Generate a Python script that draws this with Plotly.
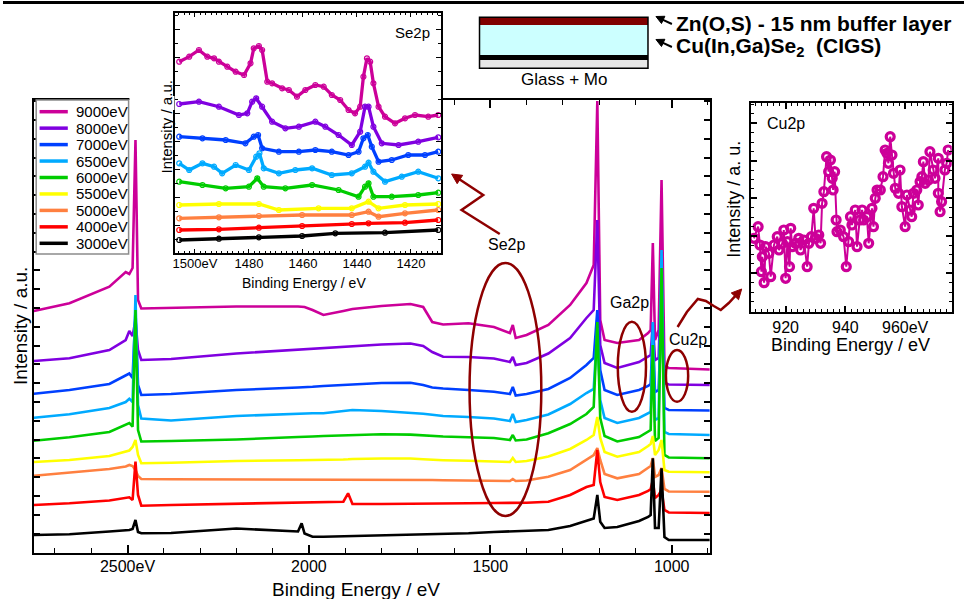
import math
import plotly.graph_objects as go

W, H = 964, 599
FONT = "Liberation Sans, Arial, sans-serif"
DARKRED = "#8E0000"

# ---------------- main survey spectra (Binding energy in eV, intensity a.u.) ----------------
energy = [2758, 2660, 2550, 2505, 2495, 2486, 2478, 2471, 2462, 2380,
          2200, 2030, 2020, 2012, 1990, 1960, 1905, 1892, 1880, 1800,
          1720, 1685, 1660, 1630, 1560, 1490, 1446, 1438, 1430, 1400,
          1340, 1280, 1235, 1215, 1205, 1197, 1185, 1150, 1090, 1065,
          1058, 1052, 1046, 1036, 1028, 1020, 1008, 895]

i9000 = [242, 249.7, 266.3, 281, 279, 285, 413, 253, 244.5, 245,
         246.5, 246.5, 246.5, 246, 243, 238, 242, 243, 244, 247,
         249, 246, 231, 228.5, 229.7, 226, 220, 228, 215, 218,
         228, 248, 270, 288, 452, 233, 213, 210, 213, 220,
         223, 310, 213, 223, 373, 187, 185, 183.5]
i8000 = [192, 194.7, 203, 213, 222, 217, 233, 203, 193, 194,
         199.5, 203.5, 203.5, 203.7, 204.3, 205, 206, 206.3, 206.7, 208.5,
         209.5, 207, 201, 196.3, 196, 194.5, 191, 196, 188, 190,
         199.5, 215, 235, 243, 333, 208, 190, 185, 191, 196,
         198, 231, 193, 195, 291, 170, 168.5, 168]
i7000 = [159.3, 163, 169, 177, 179.5, 175, 243, 168, 158, 159,
         163, 165.5, 165.6, 165.7, 166.2, 167, 168, 168.3, 168.7, 170,
         170.3, 168, 165.5, 164.5, 163, 161.3, 159, 166, 157.5, 159,
         164, 175, 188, 195, 243, 183, 163, 158, 163, 167,
         169, 223, 161, 163, 253, 145, 143, 142.5]
i6500 = [135.3, 138.7, 145, 151, 154.3, 151, 258, 148, 134.5, 132.5,
         137, 139.5, 139.5, 139.6, 139.7, 139.7, 141.5, 142.5, 143, 142,
         140.5, 139.2, 138.2, 137, 136, 134.5, 132, 139, 131, 133,
         138.5, 149, 160, 164, 225, 153, 135, 130, 135, 139.5,
         141, 231, 133, 135, 303, 121, 119, 118]
i6000 = [112.3, 115.7, 121, 129, 130, 126.3, 243, 123, 111.5, 112,
         113.5, 116, 116, 116.1, 116.5, 117, 117.5, 117.8, 118, 118.8,
         118.4, 117.5, 117, 116.5, 115.7, 115, 113, 118, 112.5, 113.5,
         119.7, 129, 139, 146, 231, 135, 117, 111.5, 116, 121,
         123, 208, 112, 115, 285, 98, 95.5, 94.7]
i5500 = [91, 93, 97, 101, 102.5, 106, 113, 98, 89.7, 90.2,
         92, 92.8, 92.8, 92.9, 93, 93, 93.5, 93.7, 94, 94.5,
         94.5, 93.7, 93, 92.8, 92.2, 91.5, 91, 95, 91, 92,
         96.5, 104, 113, 118, 136, 115, 101, 96.3, 101, 107,
         109, 117, 98, 103, 113, 83, 81.3, 80.7]
i5000 = [77.3, 80.3, 84, 86.5, 88, 87, 83, 77, 74, 73.8,
         73.7, 73.7, 73.7, 73.7, 73.7, 73.8, 73.8, 73.8, 73.8, 73.7,
         73.5, 73.2, 73, 72.7, 72.5, 72.2, 72, 74, 72, 72.5,
         76.3, 83, 93, 98, 105, 93, 79, 74.7, 79, 85,
         87, 95, 76, 78, 85, 64, 61.5, 61.3]
i4000 = [48, 49.7, 52.5, 54.7, 55.7, 53, 91.3, 58, 47.3, 48,
         49, 50.5, 50.6, 50.7, 50.9, 51, 51.3, 59.7, 49, 49,
         49, 49.2, 49.4, 49.5, 49.7, 50, 50, 50.5, 50, 50.2,
         51.3, 58, 66, 68, 103, 71, 56, 53, 58, 62,
         64, 73, 55, 58, 63, 43, 40.5, 40]
i3000 = [18, 18.7, 21.5, 22.7, 23, 24, 33, 21, 19.7, 20,
         24.5, 21.5, 29.7, 19.5, 16.3, 16.3, 16.7, 16.8, 17, 17.5,
         18, 18.5, 18.8, 19.2, 19.7, 21, 21.5, 22, 21.5, 22,
         23, 27, 32, 34.5, 58, 31.3, 25, 26, 32, 36,
         38, 94.7, 25, 25, 84.7, 16, 13, 13]

series_names = ["9000eV", "8000eV", "7000eV", "6500eV", "6000eV",
                "5500eV", "5000eV", "4000eV", "3000eV"]
series_colors = ["#CC0099", "#8000E0", "#0040FF", "#00AAFF", "#00CC00",
                 "#FFFF00", "#FF8040", "#FF0000", "#000000"]
main_series = [i9000, i8000, i7000, i6500, i6000, i5500, i5000, i4000, i3000]

main_xticks = [2500, 2000, 1500, 1000]
main_xticktext = ["2500eV", "2000", "1500", "1000"]

# ---------------- Se2p inset ----------------
se_e_9000 = [1505.8, 1502.1, 1498.5, 1495.4, 1492.9, 1491.1, 1488.0, 1484.9, 1481.8, 1479.4,
             1478.2, 1476.3, 1475.1, 1473.2, 1471.4, 1467.7, 1465.2, 1462.2, 1459.1, 1455.4,
             1452.3, 1449.3, 1446.2, 1443.1, 1440.7, 1438.8, 1437.6, 1436.3, 1435.1, 1433.9,
             1432.0, 1429.6, 1425.9, 1422.2, 1418.5, 1413.6, 1409.9]
se_i_9000 = [191.6, 196.6, 203.3, 196.6, 195, 191.6, 186.6, 181.6, 178.3, 190,
             205, 207.3, 203.3, 171.6, 170, 165, 163.3, 156.6, 163.3, 168.3,
             166.6, 158.3, 153.3, 143.3, 140, 146.6, 176.6, 195, 191.6, 170,
             146.6, 136.6, 130, 135, 138.3, 136.6, 138.3]
se_e_8000 = [1505.8, 1498.5, 1491.1, 1483.7, 1480.6, 1478.8, 1477.3, 1475.1, 1471.4, 1466.5,
             1461.5, 1455.4, 1451.7, 1446.8, 1441.9, 1438.8, 1437.0, 1435.7, 1433.9, 1430.8,
             1424.6, 1417.3, 1409.9]
se_i_8000 = [149.3, 151.6, 146.6, 138.3, 140, 151.6, 155, 146.6, 131.6, 125,
             126.6, 131.6, 126.6, 118.3, 108.3, 121.6, 146.6, 146.6, 126.6, 110,
             108.3, 111.6, 116]
se_e_7000 = [1505.8, 1497.2, 1488.6, 1481.3, 1478.2, 1476.6, 1475.1, 1468.9, 1461.5, 1455.4,
             1449.3, 1443.1, 1439.4, 1437.6, 1436.0, 1434.5, 1432.0, 1427.1, 1421.0, 1414.8,
             1409.9]
se_i_7000 = [116.6, 115, 113.3, 110, 116.6, 118.3, 105, 101.6, 101.6, 103.3,
             101.6, 98.3, 101.6, 115, 118.3, 106.6, 91.6, 93.3, 98.3, 98.3,
             101.6]
se_e_6500 = [1505.8, 1502.1, 1497.2, 1492.9, 1489.9, 1484.9, 1480.0, 1477.3, 1476.1, 1474.5,
             1468.9, 1462.8, 1456.6, 1449.3, 1441.9, 1437.0, 1435.7, 1433.9, 1429.6, 1423.4,
             1417.3, 1409.9]
se_i_6500 = [90, 83.3, 90, 86.6, 80, 88.3, 83.3, 96.6, 100, 85,
             80, 83.3, 85, 78.3, 80, 86.6, 90.6, 81.6, 71.6, 76.6,
             81.6, 75]
se_e_6000 = [1505.8, 1497.2, 1488.6, 1480.0, 1476.9, 1474.5, 1466.5, 1456.6, 1446.8, 1439.4,
             1437.0, 1435.7, 1433.9, 1427.1, 1417.3, 1409.9]
se_i_6000 = [71.6, 68.3, 65, 66.6, 75, 66.6, 65, 68.3, 63.3, 56.6,
             66.6, 70, 56.6, 56.6, 58.3, 60.6]
se_e_5500 = [1505.8, 1491.1, 1476.3, 1468.9, 1454.2, 1441.9, 1435.7, 1432.0, 1422.2, 1409.9]
se_i_5500 = [48.3, 49.3, 49.3, 43.3, 45, 45, 51.6, 45, 48.3, 49.3]
se_e_5000 = [1505.8, 1491.1, 1476.3, 1460.3, 1441.9, 1435.7, 1432.0, 1422.2, 1409.9]
se_i_5000 = [35, 36, 37.3, 38.3, 38.3, 41.6, 36.6, 40, 43.3]
se_e_4000 = [1505.8, 1491.1, 1476.3, 1460.3, 1441.9, 1435.7, 1422.2, 1409.9]
se_i_4000 = [23.3, 24, 25.6, 27.3, 29.3, 30, 30.6, 33.3]
se_e_3000 = [1505.8, 1491.1, 1476.3, 1460.3, 1448.0, 1429.6, 1409.9]
se_i_3000 = [13.3, 14.6, 16, 17.3, 20, 20.6, 23.3]

se_series = [(se_e_9000, se_i_9000), (se_e_8000, se_i_8000), (se_e_7000, se_i_7000),
             (se_e_6500, se_i_6500), (se_e_6000, se_i_6000), (se_e_5500, se_i_5500),
             (se_e_5000, se_i_5000), (se_e_4000, se_i_4000), (se_e_3000, se_i_3000)]
se_xticks = [1500, 1480, 1460, 1440, 1420]
se_xticktext = ["1500eV", "1480", "1460", "1440", "1420"]

# ---------------- Cu2p inset (9000 eV) ----------------
cu_e = [909.4, 910.8, 911.4, 911.9, 912.2, 912.8, 913.3, 914.4, 915.0, 916.1,
        917.2, 917.8, 918.9, 919.4, 920.0, 920.6, 921.3, 921.7, 922.2, 923.3,
        924.4, 925.0, 926.1, 927.2, 927.8, 928.6, 929.4, 930.0, 931.1, 931.7,
        932.2, 932.8, 933.7, 934.4, 935.0, 935.6, 935.9, 936.4, 936.9, 937.2,
        938.3, 939.4, 940.3, 941.1, 941.7, 942.2, 943.3, 943.9, 944.8, 945.6,
        946.1, 947.2, 947.8, 948.9, 949.4, 950.0, 950.6, 951.7, 952.6, 953.3,
        953.9, 954.4, 955.0, 955.6, 956.1, 956.7, 957.8, 958.3, 958.9, 960.0,
        960.6, 961.7, 962.2, 962.8, 963.9, 964.4, 965.0, 965.6, 966.1, 966.7,
        967.8, 968.3, 969.4, 970.0, 971.1, 971.1, 971.7, 972.2, 973.3, 973.9,
        974.4]
cu_i = [73.4, 85.0, 66.7, 40.0, 55.0, 29.0, 65.0, 58.4, 35.0, 66.7,
        75.0, 61.7, 68.4, 81.7, 33.4, 70.0, 45.0, 83.4, 65.0, 68.4,
        73.4, 61.7, 71.7, 45.0, 68.4, 75.0, 103.4, 73.4, 76.7, 68.4,
        108.4, 120.0, 155.0, 140.0, 151.7, 133.4, 121.7, 140.0, 91.7, 80.0,
        81.7, 75.0, 45.0, 70.0, 95.0, 86.7, 101.7, 65.0, 91.7, 101.7,
        91.7, 95.0, 68.4, 103.4, 85.0, 113.4, 121.7, 121.7, 135.0, 161.7,
        158.4, 148.4, 175.0, 156.7, 138.4, 123.4, 118.4, 141.7, 105.0, 85.0,
        116.7, 101.7, 95.0, 118.4, 121.7, 106.7, 130.0, 135.0, 150.0, 128.4,
        131.7, 160.0, 141.7, 133.4, 153.4, 118.4, 100.0, 110.0, 141.7, 148.4,
        161.7]
cu_xticks = [920, 940, 960]
cu_xticktext = ["920", "940", "960eV"]

# axis ranges
main_xrange = [2758, 895]
main_yrange = [0, 453]
se_xrange = [1507.3, 1408.9]
se_yrange = [0, 240.6]
cu_xrange = [908.3, 975.6]
cu_yrange = [0, 209]


def fx(px):
    return px / W


def fy(py):
    return 1 - py / H


def path(pts, close=False):
    s = "M " + " L ".join(f"{fx(x):.5f},{fy(y):.5f}" for x, y in pts)
    return s + (" Z" if close else "")


fig = go.Figure()

# main spectra
for name, col, vals in zip(series_names, series_colors, main_series):
    fig.add_trace(go.Scatter(x=energy, y=vals, mode="lines", name=name,
                             line=dict(color=col, width=2.6), xaxis="x", yaxis="y",
                             showlegend=False, hoverinfo="skip"))

# Se2p inset: white background then data
fig.add_trace(go.Scatter(x=[se_xrange[0], se_xrange[1], se_xrange[1], se_xrange[0], se_xrange[0]],
                         y=[se_yrange[0], se_yrange[0], se_yrange[1], se_yrange[1], se_yrange[0]],
                         fill="toself", fillcolor="white", mode="lines",
                         line=dict(width=0, color="white"), xaxis="x2", yaxis="y2",
                         showlegend=False, hoverinfo="skip"))
for col, (ex, iy) in zip(series_colors, se_series):
    fig.add_trace(go.Scatter(x=ex, y=iy, mode="lines+markers",
                             line=dict(color=col, width=3.3),
                             marker=dict(symbol="circle-open", size=5, color=col, line=dict(width=1.2)),
                             xaxis="x2", yaxis="y2", showlegend=False, hoverinfo="skip"))

# Cu2p inset
fig.add_trace(go.Scatter(x=cu_e, y=cu_i, mode="lines+markers",
                         line=dict(color=series_colors[0], width=2),
                         marker=dict(symbol="circle-open", size=8, color=series_colors[0],
                                     line=dict(width=3.2, color=series_colors[0])),
                         xaxis="x3", yaxis="y3", showlegend=False, hoverinfo="skip"))

axis_common = dict(showline=True, linecolor="black", mirror="ticks", ticks="inside",
                   tickcolor="black", showgrid=False, zeroline=False, fixedrange=True)

fig.update_layout(
    width=W, height=H, autosize=False,
    margin=dict(l=0, r=0, t=0, b=0, pad=0),
    paper_bgcolor="white", plot_bgcolor="white",
    font=dict(family=FONT, color="black"),
    xaxis=dict(domain=[fx(31), fx(709)], anchor="y", range=main_xrange,
               tickmode="array", tickvals=main_xticks, ticktext=main_xticktext,
               ticklen=8, tickwidth=1.5, linewidth=2, ticklabelstandoff=-2,
               tickfont=dict(size=16, family=FONT, color="black"),
               minor=dict(tickmode="linear", tick0=0, dtick=100, ticklen=5,
                          ticks="inside", tickcolor="black", tickwidth=1.2),
               **axis_common),
    yaxis=dict(domain=[fy(553), fy(100)], anchor="x", range=main_yrange,
               tickmode="linear", tick0=0.7, dtick=18.8, ticklen=6, tickwidth=1.5,
               linewidth=2, showticklabels=False, **axis_common),
    xaxis2=dict(domain=[fx(172.7), fx(439.3)], anchor="y2", range=se_xrange,
                tickmode="array", tickvals=se_xticks, ticktext=se_xticktext,
                ticklen=5, tickwidth=1, linewidth=1.5, ticklabelstandoff=-3,
                tickfont=dict(size=13, family=FONT, color="black"),
                minor=dict(tickmode="linear", tick0=0, dtick=2, ticklen=3,
                           ticks="inside", tickcolor="black", tickwidth=1),
                **axis_common),
    yaxis2=dict(domain=[fy(253.3), fy(12.7)], anchor="x2", range=se_yrange,
                tickmode="linear", tick0=0, dtick=28, ticklen=5, tickwidth=1,
                linewidth=1.5, showticklabels=False,
                minor=dict(tickmode="linear", tick0=0, dtick=14, ticklen=3,
                           ticks="inside", tickcolor="black", tickwidth=1),
                **axis_common),
    xaxis3=dict(domain=[fx(750), fx(951.7)], anchor="y3", range=cu_xrange,
                tickmode="array", tickvals=cu_xticks, ticktext=cu_xticktext,
                ticklen=6, tickwidth=1.5, linewidth=2,
                tickfont=dict(size=16, family=FONT, color="black"),
                minor=dict(tickmode="linear", tick0=0, dtick=2, ticklen=3,
                           ticks="inside", tickcolor="black", tickwidth=1.2),
                **axis_common),
    yaxis3=dict(domain=[fy(311.7), fy(102.7)], anchor="x3", range=cu_yrange,
                tickmode="linear", tick0=0.9, dtick=37.5, ticklen=6, tickwidth=1.5,
                linewidth=2, showticklabels=False,
                minor=dict(tickmode="linear", tick0=0.9, dtick=9.375, ticklen=3,
                           ticks="inside", tickcolor="black", tickwidth=1.2),
                **axis_common),
)

shapes = []
annotations = []


def text(px, py, s, size, anchor="center", angle=0, color="black"):
    annotations.append(dict(x=fx(px), y=fy(py), xref="paper", yref="paper", text=s,
                            showarrow=False, xanchor=anchor, yanchor="middle",
                            textangle=angle, font=dict(size=size, family=FONT, color=color)))


def arrow_path(pts, color, width, head_len=10, head_w=5):
    """Polyline in pixel space ending in a filled triangular arrow head."""
    (x1, y1), (x2, y2) = pts[-2], pts[-1]
    d = math.hypot(x2 - x1, y2 - y1)
    ux, uy = (x2 - x1) / d, (y2 - y1) / d
    bx, by = x2 - ux * head_len, y2 - uy * head_len
    body = pts[:-1] + [(bx + ux * 2, by + uy * 2)]
    shapes.append(dict(type="path", xref="paper", yref="paper", path=path(body),
                       line=dict(color=color, width=width)))
    tri = [(x2, y2), (bx - uy * head_w, by + ux * head_w), (bx + uy * head_w, by - ux * head_w)]
    shapes.append(dict(type="path", xref="paper", yref="paper", path=path(tri, close=True),
                       fillcolor=color, line=dict(color=color, width=1)))


# top rule
shapes.append(dict(type="line", xref="paper", yref="paper", x0=0, x1=1, y0=fy(2.5), y1=fy(2.5),
                   line=dict(color="black", width=3)))
# the main frame's top edge is not drawn between the legend and the Se2p inset
shapes.append(dict(type="rect", xref="paper", yref="paper", x0=fx(126.8), x1=fx(172),
                   y0=fy(110), y1=fy(96), fillcolor="white", line=dict(width=0)))

# axis titles
text(354, 589, "Binding Energy / eV", 19)
text(17, 326, "Intensity / a.u.", 19, angle=-90)
text(302, 283, "Binding Energy / eV", 14)
text(164, 127, "Intensity / a.u.", 15, angle=-90)
text(850, 345, "Binding Energy / eV", 18)
text(733, 199, "Intensity / a. u.", 18, angle=-90)
text(411, 32, "Se2p", 15)
text(785, 123, "Cu2p", 16)

# manual legend
shapes.append(dict(type="rect", xref="paper", yref="paper", x0=fx(33.3), x1=fx(126),
                   y0=fy(254), y1=fy(100), fillcolor="white", line=dict(color="#8c8c8c", width=1.5)))
for k, (name, col) in enumerate(zip(series_names, series_colors)):
    yy = 111.7 + k * 16.45
    shapes.append(dict(type="line", xref="paper", yref="paper", x0=fx(36.7), x1=fx(65),
                       y0=fy(yy), y1=fy(yy), line=dict(color=col, width=3.5)))
    text(71.5, yy, name, 15, anchor="left")

# peak annotations (ellipses + labels)
for (x0, x1, y0, y1) in [(468, 540, 263, 516), (616.7, 645, 321.7, 411.7), (665, 687.3, 350, 401.7)]:
    shapes.append(dict(type="circle", xref="paper", yref="paper", x0=fx(x0), x1=fx(x1),
                       y0=fy(y1), y1=fy(y0), line=dict(color=DARKRED, width=2.5)))
text(505, 245, "Se2p", 16)
text(628, 302, "Ga2p", 16)
text(687, 340, "Cu2p", 16)

# zig-zag arrow to Se2p inset, curved arrow to Cu2p inset
arrow_path([(498.3, 234), (460, 210), (481.7, 195), (450, 174)], DARKRED, 2.5)
arrow_path([(676.7, 327), (686, 312), (697, 299), (705, 301), (713, 306),
            (720, 310), (728, 303), (741, 289)], DARKRED, 2.5)

# layer stack sketch
for (y0, y1, col) in [(17.3, 25, "#800000"), (25, 55, "#CCFFFF"), (55, 60, "#000000"), (60, 68.3, "#E6E6E6")]:
    shapes.append(dict(type="rect", xref="paper", yref="paper", x0=fx(478), x1=fx(647),
                       y0=fy(y1), y1=fy(y0), fillcolor=col, line=dict(width=0)))
shapes.append(dict(type="rect", xref="paper", yref="paper", x0=fx(478), x1=fx(647),
                   y0=fy(68.3), y1=fy(17.3), line=dict(color="black", width=1.5)))
text(563, 79, "Glass + Mo", 17)
text(673, 24, "<b>Zn(O,S) - 15 nm buffer layer</b>", 21, anchor="left")
text(673, 47, "<b>Cu(In,Ga)Se<sub>2</sub>  (CIGS)</b>", 21, anchor="left")
arrow_path([(671, 24), (655, 16.5)], "black", 2, head_len=8, head_w=4)
arrow_path([(671, 47), (655, 39.5)], "black", 2, head_len=8, head_w=4)

fig.update_layout(shapes=shapes, annotations=annotations)
fig.write_html("out.html")
